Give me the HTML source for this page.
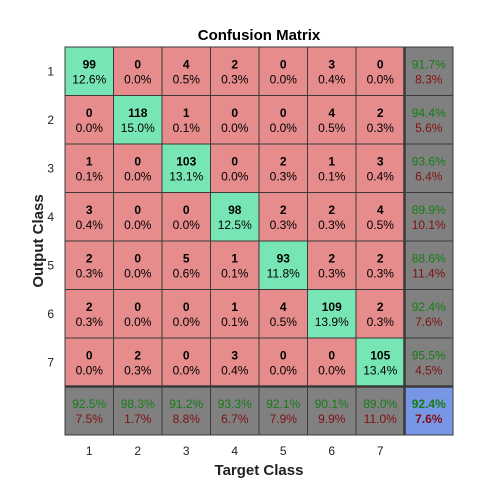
<!DOCTYPE html>
<html><head><meta charset="utf-8"><style>body{margin:0;background:#fff}svg{display:block}</style></head>
<body>
<svg id="c" width="500" height="500" font-family="Liberation Sans, sans-serif"></svg>
<script>
const classes=['1','2','3','4','5','6','7'];
const counts=[
[99,0,4,2,0,3,0],
[0,118,1,0,0,4,2],
[1,0,103,0,2,1,3],
[3,0,0,98,2,2,4],
[2,0,5,1,93,2,2],
[2,0,0,1,4,109,2],
[0,2,0,3,0,0,105]];
const rowPct=[[91.7,8.3],[94.4,5.6],[93.6,6.4],[89.9,10.1],[88.6,11.4],[92.4,7.6],[95.5,4.5]];
const colPct=[[92.5,7.5],[98.3,1.7],[91.2,8.8],[93.3,6.7],[92.1,7.9],[90.1,9.9],[89.0,11.0]];
const totalPct=[92.4,7.6];
const total=786;
const svg=document.getElementById('c');const NS='http://www.w3.org/2000/svg';
const X0=65,Y0=47,S=48.5;
function el(t,a,p){const e=document.createElementNS(NS,t);for(const k in a)e.setAttribute(k,a[k]);(p||svg).appendChild(e);return e;}
function txt(x,y,s,o){const e=el('text',Object.assign({x:x,y:y,'text-anchor':'middle','font-size':12},o||{}));e.textContent=s;return e;}
const n=classes.length;
function cell(r,c,fill,l1,l2,c1,c2,bold2,name){
  const g=el('g',{});
  
  
  el('rect',{x:X0+c*S,y:Y0+r*S,width:S,height:S,fill:fill,stroke:'#3a3a3a','stroke-width':1},g);
  const cx=X0+c*S+S/2,cy=Y0+r*S+S/2;
  txt(cx,cy-3,l1,{fill:c1,'font-weight':bold2===0||bold2===2?'bold':'normal'}).remove();
  const a=el('text',{x:cx,y:cy-3,'text-anchor':'middle','font-size':12,fill:c1,'font-weight':(bold2&1)?'bold':'normal'},g);a.textContent=l1;
  const b=el('text',{x:cx,y:cy+12,'text-anchor':'middle','font-size':12,fill:c2,'font-weight':(bold2&2)?'bold':'normal'},g);b.textContent=l2;
}
for(let r=0;r<n;r++)for(let c=0;c<n;c++){
  const v=counts[r][c];
  cell(r,c,r===c?'#78e6b4':'#e68c8c',String(v),(v/total*100).toFixed(1)+'%','#000','#000',1,'cell-'+(r+1)+'-'+(c+1));
}
for(let r=0;r<n;r++)cell(r,n,'#808080',rowPct[r][0].toFixed(1)+'%',rowPct[r][1].toFixed(1)+'%','#157d15','#801010',0,'row-summary-'+(r+1));
for(let c=0;c<n;c++)cell(n,c,'#808080',colPct[c][0].toFixed(1)+'%',colPct[c][1].toFixed(1)+'%','#157d15','#801010',0,'col-summary-'+(c+1));
cell(n,n,'#7896e6',totalPct[0].toFixed(1)+'%',totalPct[1].toFixed(1)+'%','#157d15','#801010',3,'overall-accuracy');
el('line',{x1:X0,x2:X0+(n+1)*S,y1:Y0+n*S,y2:Y0+n*S,stroke:'#3a3a3a','stroke-width':2.5});
el('line',{x1:X0+n*S,x2:X0+n*S,y1:Y0,y2:Y0+(n+1)*S,stroke:'#3a3a3a','stroke-width':2.5});
for(let i=0;i<n;i++){
  const t=txt(X0+i*S+S/2,455,classes[i],{fill:'#222','font-size':12});
  
  const u=txt(54,Y0+i*S+S/2+4,classes[i],{fill:'#222','font-size':12,'text-anchor':'end'});
  
}
const ti=txt(259,40,'Confusion Matrix',{'font-weight':'bold','font-size':15,fill:'#000'});

const xt=txt(259,475,'Target Class',{'font-weight':'bold','font-size':15,fill:'#222'});

const yt=txt(0,0,'Output Class',{'font-weight':'bold','font-size':15,fill:'#222',transform:'translate(43,241) rotate(-90)'});

</script>
</body></html>
